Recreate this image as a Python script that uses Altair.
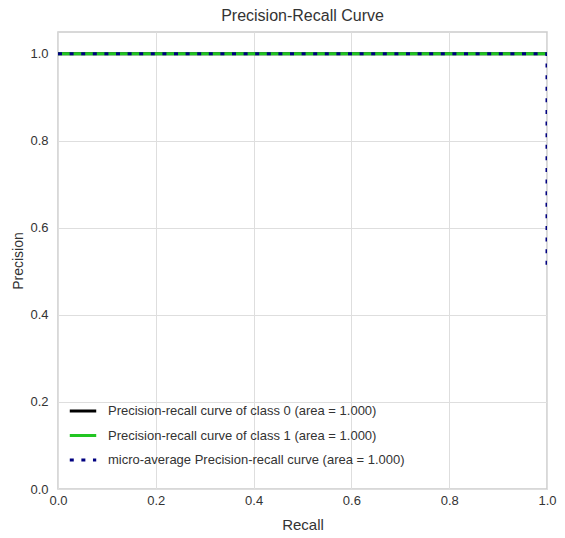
import altair as alt
import pandas as pd

series_names = [
    "Precision-recall curve of class 0 (area = 1.000)",
    "Precision-recall curve of class 1 (area = 1.000)",
    "micro-average Precision-recall curve (area = 1.000)",
]
series_colors = ["#000000", "#22c522", "#000080"]
series_widths = [3, 3, 4]
series_dashes = [[1, 0], [1, 0], [4, 7.6]]

recall_c0 = [0.0, 1.0, 1.0]
precision_c0 = [1.0, 1.0, 1.0]
recall_c1 = [0.0, 1.0, 1.0]
precision_c1 = [1.0, 1.0, 1.0]
recall_micro = [0.0, 1.0, 1.0]
precision_micro = [1.0, 1.0, 0.5]

rows = []
for name, rs, ps in zip(series_names,
                        [recall_c0, recall_c1, recall_micro],
                        [precision_c0, precision_c1, precision_micro]):
    for i, (r, p) in enumerate(zip(rs, ps)):
        rows.append({"series": name, "recall": r, "precision": p, "order": i})
df = pd.DataFrame(rows)

FONT = "Liberation Sans Narrow, Arial Narrow, Liberation Sans, sans-serif"

leg = dict(title=None, orient="none", legendX=10, legendY=364)

chart = alt.Chart(df).mark_line(clip=True).encode(
    x=alt.X("recall:Q", scale=alt.Scale(domain=[0, 1], nice=False, zero=False),
            axis=alt.Axis(title="Recall", values=[0, 0.2, 0.4, 0.6, 0.8, 1.0], format=".1f",
                          labelFlush=False)),
    y=alt.Y("precision:Q", scale=alt.Scale(domain=[0, 1.05], nice=False),
            axis=alt.Axis(title="Precision", values=[0, 0.2, 0.4, 0.6, 0.8, 1.0], format=".1f",
                          labelFlush=False)),
    order="order:Q",
    color=alt.Color("series:N", scale=alt.Scale(domain=series_names, range=series_colors),
                    legend=alt.Legend(symbolType="stroke", symbolSize=700,
                                      labelFontSize=13, labelFont=FONT, labelColor="#333333",
                                      rowPadding=2.5, labelOffset=10, labelLimit=400, **leg)),
    strokeWidth=alt.StrokeWidth("series:N", scale=alt.Scale(domain=series_names, range=series_widths),
                                legend=alt.Legend(**leg)),
    strokeDash=alt.StrokeDash("series:N", scale=alt.Scale(domain=series_names, range=series_dashes),
                              legend=alt.Legend(**leg)),
).properties(
    width=489,
    height=457,
    title=alt.TitleParams("Precision-Recall Curve", fontSize=16, font=FONT, fontWeight="normal",
                          color="#333333", offset=8),
    autosize=alt.AutoSizeParams(type="none"),
    padding={"left": 50, "top": 24, "right": 10, "bottom": 49},
).configure_view(
    stroke="#cccccc", strokeWidth=1.5
).configure_axis(
    grid=True, gridColor="#dedede", gridWidth=1, domain=False, ticks=False,
    labelFont=FONT, labelFontSize=13, labelColor="#333333",
    titleFont=FONT, titleFontSize=15, titleFontWeight="normal", titleColor="#333333",
).configure_axisX(
    labelPadding=5, titlePadding=10
).configure_axisY(
    labelPadding=10, titlePadding=4, titleFontSize=14
)

chart.save("out.html", embed_options={"renderer": "svg", "actions": False})
